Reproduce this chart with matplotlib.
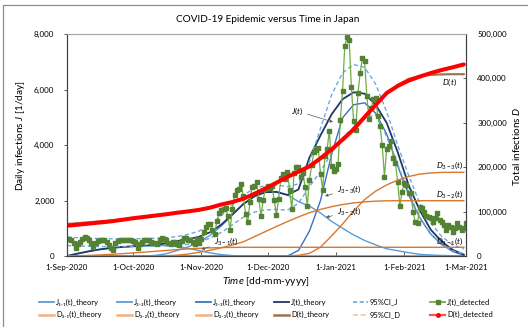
import numpy as np
import matplotlib
matplotlib.use("Agg")
import matplotlib.pyplot as plt
import matplotlib.dates as mdates
from matplotlib.lines import Line2D
from matplotlib.ticker import FuncFormatter

plt.rcParams['font.family'] = ['Lato', 'DejaVu Sans']
plt.rcParams['mathtext.fontset'] = 'custom'
plt.rcParams['mathtext.rm'] = 'Lato'
plt.rcParams['mathtext.it'] = 'Lato:italic'
plt.rcParams['mathtext.bf'] = 'Lato:bold'

# ---------------- data ----------------
start = np.datetime64('2020-09-01')
end = np.datetime64('2021-03-01')

# daily detected infections J (from 1-Sep-2020)
j_detected = [
    620, 600, 560, 480, 300, 420, 520, 600, 670, 640,
    570, 480, 310, 480, 540, 580, 560, 580, 520, 400,
    300, 230, 480, 540, 580, 570, 560, 580, 560, 580,
    540, 500, 290, 420, 520, 560, 580, 560, 520, 480,
    460, 440, 560, 660, 600, 560, 480, 450, 500, 520,
    440, 400, 540, 660, 640, 580, 560, 520, 450, 613,
    484, 618, 858, 1045, 1138, 1149, 943, 778, 1273, 1547,
    1660, 1704, 1735, 1438, 950, 1699, 2201, 2388, 2425, 2596,
    2168, 1518, 1228, 1945, 2499, 2508, 2684, 2067, 1429, 2030,
    2431, 2510, 2439, 2508, 2025, 1488, 2065, 2804, 2971, 2788,
    3041, 2367, 1679, 2997, 3208, 3211, 2834, 2993, 2491, 1815,
    2739, 3271, 3744, 3825, 3881, 2948, 2395, 3608, 3852, 4520,
    3257, 3060, 3128, 3325, 4915, 5946, 7570, 7882, 7790, 6094,
    4876, 4536, 5874, 6604, 7133, 7041, 5759, 4925, 5320, 5659,
    5693, 5049, 4699, 3987, 2860, 3853, 3964, 4131, 3529, 3340,
    2673, 1787, 2324, 2631, 2576, 2286, 2270, 1586, 1213, 1190,
    1780, 1713, 1600, 1458, 1420, 1359, 1240, 1380, 1550, 1300,
    1240, 1100, 937, 1117, 1050, 877, 1000, 1190, 1050, 937,
    1000, 1190,
]

# theory curves sampled every 5 days from 1-Sep-2020
theory_day = np.arange(0, 181, 5)

j31_theory = [0, 90, 170, 240, 290, 325, 350, 370, 380, 375, 340, 275, 195, 110, 50, 15, 3,
              0, 0, 0, 0, 0, 0, 0, 0, 0, 0, 0, 0, 0, 0, 0, 0, 0, 0, 0, 0]
j32_theory = [0, 0, 0, 0, 0, 0, 0, 0, 20, 80, 200, 330, 500, 750, 1080, 1480, 1870, 2150,
              2300, 2310, 2200, 1960, 1800, 1550, 1250, 1000, 760, 560, 400, 260, 190, 120,
              60, 35, 20, 10, 5]
j33_theory = [0] * 21 + [200, 900, 2000, 3650, 4980, 5450, 5520, 5150, 4400, 3250, 2200,
                         1380, 790, 420, 160, 30]
j_theory = [0, 90, 170, 240, 290, 325, 350, 370, 400, 455, 540, 605, 695, 860, 1130, 1495,
            1873, 2150, 2300, 2310, 2200, 2400, 3550, 4350, 5100, 5650, 5900, 5850, 5450,
            4800, 3750, 2550, 1650, 950, 520, 220, 50]
ci_j_upper = [680, 660, 640, 630, 620, 620, 620, 625, 640, 660, 700, 780, 900, 1120, 1450,
              1850, 2200, 2430, 2540, 2560, 2500, 2600, 3400, 4600, 5800, 6600, 6900, 6800,
              6200, 5200, 4000, 2900, 1900, 1200, 700, 400, 250]
ci_j_lower = [380, 360, 350, 340, 340, 340, 345, 350, 360, 370, 380, 420, 500, 650, 850,
              1120, 1400, 1580, 1660, 1680, 1650, 1900, 2500, 3050, 3700, 4250, 4650, 4950,
              5100, 4300, 3300, 2300, 1400, 800, 400, 180, 80]

# cumulative curves, thousands of infections
d31_theory = [0, 0.5, 1.3, 2.4, 3.7, 5.2, 6.9, 8.7, 10.6, 12.5, 14.4, 16.0, 17.3, 18.3, 19.0,
              19.4] + [19.6] * 21
d32_theory = [0] * 8 + [0, 0.5, 1.8, 4.5, 8.5, 13, 18.5, 24.5, 32, 43.5, 55, 66.5, 77.5, 88,
                        97.5, 105, 111, 116, 119.5, 122, 123.5, 124.3] + [124.5] * 7
d33_theory = [0] * 20 + [0.2, 1.5, 6, 20, 45, 72, 101, 127, 146, 160, 171, 179, 184.5, 187,
                         188.3, 188.5, 188.5]
d_theory = [72, 74, 76, 78, 80, 82.5, 85, 88, 91, 94, 97.5, 100.5, 104, 109, 115, 121.5, 129,
            140, 152, 165, 178, 190, 202, 220, 240, 262, 285, 313, 340, 365, 385, 399, 405.5,
            408, 409, 409.5, 409.5]
ci_d_upper = [73, 75, 77, 79, 81, 83.5, 86, 89, 92, 95, 98.5, 101.5, 105, 110, 116, 122.5,
              130, 141, 153, 166, 179, 191, 203, 221, 241, 263, 286, 314, 341, 366, 386, 400,
              406.5, 409, 410, 410.5, 410.5]
ci_d_lower = [71, 73, 75, 77, 79, 81.5, 84, 87, 90, 93, 96.5, 99.5, 103, 108, 114, 120.5, 128,
              139, 151, 164, 177, 189, 201, 219, 239, 261, 284, 312, 339, 364, 384, 398, 404.5,
              407, 408, 408.5, 408.5]
d_detected = [68.3, 70.5, 73, 75.5, 78, 81.5, 85, 88, 91, 94, 97.5, 100.5, 104, 109, 116,
              121.5, 129, 140, 152, 165, 178, 190, 202, 220, 240, 262, 285, 313, 340, 367,
              383, 395, 404, 412, 419, 425, 431.5]

# ---------------- figure ----------------
W, H = 528, 327
fig = plt.figure(figsize=(W / 100, H / 100), dpi=100)


def fx(px):
    return px / W


def fy(py):
    return 1 - py / H


ax = fig.add_axes([fx(67), fy(256), fx(466) - fx(67), fy(34) - fy(256)])
ax2 = ax.twinx()

t_daily = start + np.arange(len(j_detected)).astype('timedelta64[D]')
t_theory = start + theory_day.astype('timedelta64[D]')

c_j1 = '#5B9BD5'
c_j3 = '#3F6FBF'
c_j = '#1F3864'
c_ci_j = '#6FA8DC'
c_d3 = '#D9782F'
c_d = '#A0704F'
c_ci_d = '#F8CBAD'
c_green_line = '#70AD47'
c_green_mark = '#548235'

ax.plot(t_theory, j31_theory, color=c_j1, lw=1.0)
ax.plot(t_theory, j32_theory, color=c_j1, lw=1.0)
ax.plot(t_theory, j33_theory, color=c_j3, lw=1.0)
ax.plot(t_theory, j_theory, color=c_j, lw=1.3)
ax.plot(t_theory, ci_j_upper, color=c_ci_j, lw=1.0, ls=(0, (3, 2)))
ax.plot(t_theory, ci_j_lower, color=c_ci_j, lw=1.0, ls=(0, (3, 2)))
ax.plot(t_daily, j_detected, color=c_green_line, lw=0.9, marker='s', ms=3.2,
        mfc=c_green_mark, mec=c_green_mark)

k = 1000
ax2.plot(t_theory, np.array(d31_theory) * k, color=c_d3, lw=1.0)
ax2.plot(t_theory, np.array(d32_theory) * k, color=c_d3, lw=1.0)
ax2.plot(t_theory, np.array(d33_theory) * k, color=c_d3, lw=1.0)
ax2.plot(t_theory, np.array(ci_d_upper) * k, color=c_ci_d, lw=1.0, ls=(0, (3, 2)))
ax2.plot(t_theory, np.array(ci_d_lower) * k, color=c_ci_d, lw=1.0, ls=(0, (3, 2)))
ax2.plot(t_theory, np.array(d_theory) * k, color=c_d, lw=1.5)
ax2.plot(t_theory, np.array(d_detected) * k, color='#FF0000', lw=2.9, solid_capstyle='round')

# axes ranges and ticks
ax.set_xlim(start, end)
ax.set_ylim(0, 8000)
ax2.set_ylim(0, 500000)
ax.set_yticks([0, 2000, 4000, 6000, 8000])
ax2.set_yticks([0, 100000, 200000, 300000, 400000, 500000])
ax.yaxis.set_major_formatter(FuncFormatter(lambda v, p: f"{v:,.0f}"))
ax2.yaxis.set_major_formatter(FuncFormatter(lambda v, p: f"{v:,.0f}"))
ax.xaxis.set_major_locator(mdates.MonthLocator())


def date_label(v, p):
    d = mdates.num2date(v)
    return f"{d.day}-{d.strftime('%b-%Y')}"


ax.xaxis.set_major_formatter(FuncFormatter(date_label))

tick_fs = 5.8
ax.tick_params(axis='x', direction='in', length=3, width=0.6, pad=6, labelsize=tick_fs,
               colors='#404040', labelcolor='black')
ax.tick_params(axis='y', direction='out', length=2, width=0.6, pad=7, labelsize=tick_fs,
               colors='#404040', labelcolor='black')
ax2.tick_params(axis='y', direction='in', length=2, width=0.6, pad=8, labelsize=tick_fs,
                colors='#404040', labelcolor='black')

for a in (ax, ax2):
    for s in ('left', 'bottom', 'right'):
        a.spines[s].set_color('#404040')
        a.spines[s].set_linewidth(0.8)
    a.spines['top'].set_color('#A6A6A6')
    a.spines['top'].set_linewidth(0.8)

# curve annotations (positions given on the daily-infection scale)
lab_fs = 6.0
arrow = dict(arrowstyle='-|>', color='#595959', lw=0.5, mutation_scale=4,
             shrinkA=1, shrinkB=0)
t0 = mdates.date2num(start)


def dnum(px):
    return t0 + (px - 67) / 2.204


def vpx(py):
    return (256 - py) * 8000 / 222


annotations = [
    (r'$J(t)$', (333, 122), (297, 111)),
    (r'$J_{3-3}(t)$', (325, 196), (349, 189.5)),
    (r'$J_{3-2}(t)$', (326, 217.3), (349, 211.7)),
    (r'$J_{3-1}(t)$', (201.5, 249.3), (226, 241.7)),
]
for txt, (xa, ya), (xt, yt) in annotations:
    ax2.annotate(txt, xy=(dnum(xa), vpx(ya)), xytext=(dnum(xt), vpx(yt)),
                 xycoords=ax.transData, textcoords=ax.transData, fontsize=lab_fs,
                 ha='center', va='center', arrowprops=arrow, annotation_clip=False)
for txt, py in ((r'$D(t)$', 82.3), (r'$D_{3-3}(t)$', 165), (r'$D_{3-2}(t)$', 194.5),
                (r'$D_{3-1}(t)$', 241)):
    ax2.text(dnum(449.5), vpx(py), txt, transform=ax.transData, fontsize=lab_fs,
             ha='center', va='center')

# titles
fig.text(fx(268), fy(19), 'COVID-19 Epidemic versus Time in Japan', ha='center',
         va='center', fontsize=7.2)
fig.text(fx(21), fy(136), r'Daily infections $J$ [1/day]', rotation=90, ha='center',
         va='center', fontsize=7.2)
fig.text(fx(516), fy(146), r'Total infections $D$', rotation=90, ha='center', va='center',
         fontsize=7.2)
fig.text(fx(265.5), fy(282), r'$Time$ [dd-mm-yyyy]', ha='center', va='center', fontsize=7.4)

# chart border
fig.add_artist(Line2D([fx(3), fx(3), fx(528)], [fy(327), fy(5), fy(5)], color='#8C8C8C',
                      lw=0.9, transform=fig.transFigure))

# legend, six evenly spaced columns
leg_fs = 5.4
columns = [
    (39, [('J\u2083\u208b\u2081(t)_theory', dict(color=c_j1, lw=1.3)),
          ('D\u2083\u208b\u2081(t)_theory', dict(color='#F4B183', lw=1.8))]),
    (117, [('J\u2083\u208b\u2082(t)_theory', dict(color=c_j1, lw=1.3)),
           ('D\u2083\u208b\u2082(t)_theory', dict(color='#F4B183', lw=1.8))]),
    (196, [('J\u2083\u208b\u2083(t)_theory', dict(color=c_j3, lw=1.3)),
           ('D\u2083\u208b\u2083(t)_theory', dict(color='#F4B183', lw=1.8))]),
    (274, [('J(t)_theory', dict(color=c_j, lw=1.3)),
           ('D(t)_theory', dict(color=c_d, lw=1.8))]),
    (353, [('95%CI_J', dict(color=c_ci_j, lw=1.2, ls=(0, (2.5, 1.5)))),
           ('95%CI_D', dict(color=c_ci_d, lw=1.4, ls=(0, (2.5, 1.5))))]),
    (430, [('J(t)_detected', dict(color=c_green_line, lw=1.3)),
           ('D(t)_detected', dict(color='#FF5050', lw=1.6))]),
]
rows_y = [302, 314.5]
for ci, (x0, entries) in enumerate(columns):
    for ri, (label, style) in enumerate(entries):
        y = rows_y[ri]
        fig.add_artist(Line2D([fx(x0), fx(x0 + 15)], [fy(y), fy(y)],
                              transform=fig.transFigure, **style))
        if ci == 5:
            mk = 's' if ri == 0 else 'o'
            mc = c_green_mark if ri == 0 else '#FF0000'
            fig.add_artist(Line2D([fx(x0 + 7.5)], [fy(y)], marker=mk, ms=3 if ri == 0 else 2.5,
                                  mfc=mc, mec=mc, transform=fig.transFigure))
        fig.text(fx(x0 + 17), fy(y), label, ha='left', va='center', fontsize=leg_fs)

fig.savefig('out.png', dpi=100)
